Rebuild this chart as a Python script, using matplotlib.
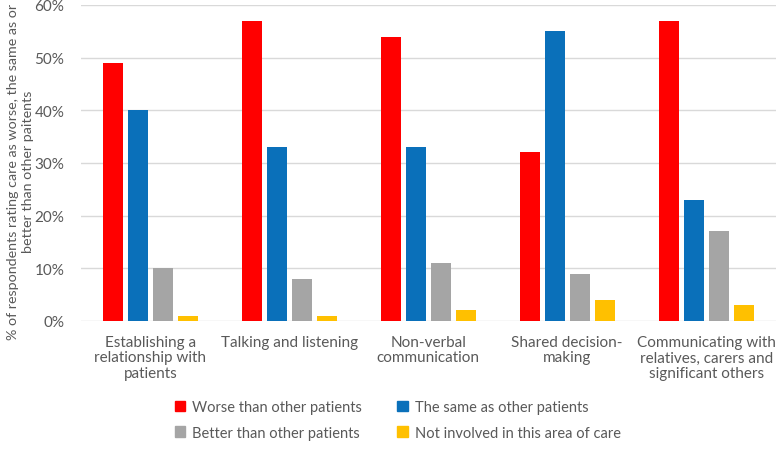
import matplotlib.pyplot as plt
import numpy as np
from matplotlib.ticker import FuncFormatter
from matplotlib.patches import Patch

plt.rcParams['font.family'] = ['Lato', 'DejaVu Sans']

categories = ["Establishing a\nrelationship with\npatients",
              "Talking and listening",
              "Non-verbal\ncommunication",
              "Shared decision-\nmaking",
              "Communicating with\nrelatives, carers and\nsignificant others"]
series_names = ["Worse than other patients",
                "The same as other patients",
                "Better than other patients",
                "Not involved in this area of care"]
worse = [49, 57, 54, 32, 57]
same = [40, 33, 33, 55, 23]
better = [10, 8, 11, 9, 17]
not_involved = [1, 1, 2, 4, 3]
colors = ["#FF0000", "#0A70BA", "#A5A5A5", "#FFC000"]
yticks = [0, 10, 20, 30, 40, 50, 60]

txt = "#595959"
fig = plt.figure(figsize=(7.78, 4.56), dpi=100)
ax = fig.add_axes([0.104, 0.294, 0.893, 0.693])

x = np.arange(len(categories))
w = 0.145
step = 0.18
handles = []
for i, (vals, c) in enumerate(zip([worse, same, better, not_involved], colors)):
    ax.bar(x + (i - 1.5) * step, vals, width=w, color=c, zorder=3)
    handles.append(Patch(color=c, label=series_names[i]))

ax.set_xlim(-0.5, len(categories) - 0.5)
ax.set_ylim(0, 60)
ax.set_yticks(yticks)
ax.yaxis.set_major_formatter(FuncFormatter(lambda v, p: "%d%%" % v))
ax.grid(axis='y', color="#D9D9D9", linewidth=1, zorder=0)
for s in ax.spines.values():
    s.set_visible(False)
ax.tick_params(axis='y', length=0, pad=12, labelsize=11, labelcolor=txt)
ax.set_xticks(x)
ax.set_xticklabels(categories, fontsize=11, color=txt, linespacing=1.15, va='top')
ax.tick_params(axis='x', length=0, pad=10)

# y label placed by hand so it stays inside the figure
fig.text(21 / 778, 1 - 172 / 456,
         "% of respondents rating care as worse, the same as or\nbetter than other paitents",
         rotation=90, ha='center', va='center', fontsize=10.3, color=txt,
         linespacing=1.3, multialignment='center')

order = [0, 2, 1, 3]
fig.legend([handles[i] for i in order], [series_names[i] for i in order],
           ncol=2, loc='lower left', bbox_to_anchor=(0.208, 0.005), frameon=False,
           fontsize=10.5, labelcolor=txt, handlelength=0.7, handleheight=0.7,
           handletextpad=0.5, columnspacing=2.4, labelspacing=0.8)

fig.savefig("out.png", dpi=100)
